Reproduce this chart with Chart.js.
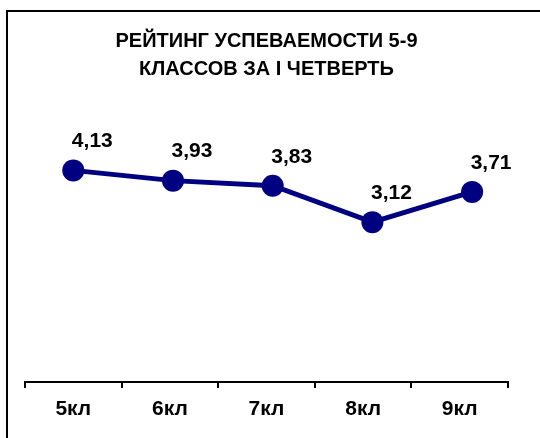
<!DOCTYPE html>
<html>
<head>
<meta charset="utf-8">
<script src="https://cdn.jsdelivr.net/npm/chart.js@4/dist/chart.umd.min.js"></script>
<style>
  html, body { margin: 0; padding: 0; background: #fff; }
  #wrap { position: relative; width: 540px; height: 438px; overflow: hidden; }
  #frame { position: absolute; left: 6px; top: 10px; width: 600px; height: 500px;
           border-left: 2px solid #000; border-top: 2px solid #000; pointer-events: none; }
  canvas { position: absolute; left: 0; top: 0; }
</style>
</head>
<body>
<div id="wrap">
  <canvas id="c" width="540" height="438"></canvas>
  <div id="frame"></div>
</div>
<script>
const titleLines = ["РЕЙТИНГ УСПЕВАЕМОСТИ 5-9", "КЛАССОВ ЗА I ЧЕТВЕРТЬ"];
const categories = ["5кл", "6кл", "7кл", "8кл", "9кл"];
const ratings = [4.13, 3.93, 3.83, 3.12, 3.71];

const navy = "#000080";
const FONT = "'Liberation Sans', Arial, sans-serif";

const valueLabels = {
  id: "valueLabels",
  afterDatasetsDraw(chart) {
    const ctx = chart.ctx;
    const meta = chart.getDatasetMeta(0);
    ctx.save();
    ctx.font = "bold 21px " + FONT;
    ctx.fillStyle = "#000";
    ctx.textAlign = "center";
    ctx.textBaseline = "middle";
    meta.data.forEach((pt, i) => {
      const txt = ratings[i].toFixed(2).replace(".", ",");
      ctx.fillText(txt, pt.x + 19, pt.y - 29);
    });
    ctx.restore();
  }
};

new Chart(document.getElementById("c"), {
  type: "line",
  data: {
    labels: categories,
    datasets: [{
      data: ratings.map((v, i) => ({ x: i, y: v })),
      xAxisID: "xp",
      yAxisID: "y",
      borderColor: navy,
      borderWidth: 5,
      backgroundColor: navy,
      pointRadius: 11,
      pointHoverRadius: 11,
      pointBackgroundColor: navy,
      pointBorderWidth: 0,
      tension: 0,
      fill: false,
      clip: false
    }]
  },
  options: {
    responsive: false,
    animation: false,
    events: [],
    layout: { padding: { left: 25, right: 32, top: 0, bottom: 0 } },
    plugins: {
      legend: { display: false },
      tooltip: { enabled: false },
      title: {
        display: true,
        text: titleLines,
        color: "#000",
        font: { family: FONT, size: 20, weight: "bold", lineHeight: 1.42 },
        padding: { top: 27, bottom: 42 }
      }
    },
    scales: {
      x: {
        type: "category",
        position: "bottom",
        offset: true,
        grid: {
          offset: true,
          display: true,
          drawOnChartArea: false,
          drawTicks: true,
          tickLength: 6,
          color: "#000",
          lineWidth: 2
        },
        border: { display: true, color: "#000", width: 2 },
        ticks: {
          color: "#000",
          font: { family: FONT, size: 21, weight: "bold" },
          padding: 9,
          maxRotation: 0
        },
        afterFit(scale) { scale.height = 56; }
      },
      xp: {
        type: "linear",
        display: false,
        min: -0.4845,
        max: 4.36
      },
      y: {
        type: "linear",
        display: false,
        min: 0,
        max: 5
      }
    }
  },
  plugins: [valueLabels]
});
</script>
</body>
</html>
